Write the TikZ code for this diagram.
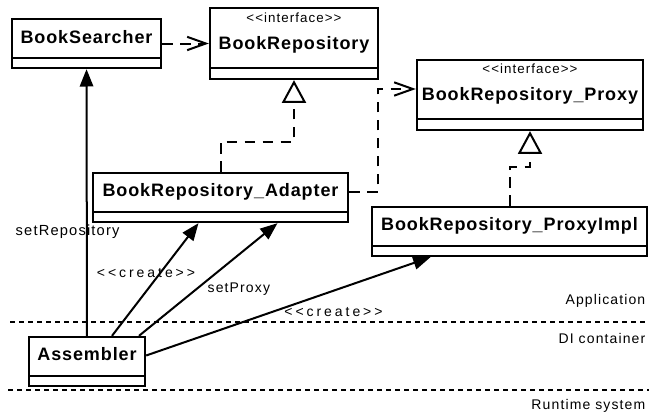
\documentclass[tikz,border=0pt]{standalone}
\usepackage{fontspec}
\setmainfont{Liberation Sans}
\newfontfamily\clsfont[LetterSpace=5]{Liberation Sans}
\newfontfamily\stfont[LetterSpace=8,Ligatures=TeXOff]{Liberation Sans}
\newfontfamily\lblfont[LetterSpace=8]{Liberation Sans}
\newfontfamily\crfont[LetterSpace=21,Ligatures=TeXOff]{Liberation Sans}
\usetikzlibrary{arrows.meta,fit,calc}
\begin{document}
\begin{tikzpicture}[x=0.75pt,y=-0.75pt,
    classbox/.style={draw, line width=1.75pt, inner sep=0pt},
    clsname/.style={font=\clsfont\bfseries\fontsize{13.5}{15}\selectfont, anchor=base},
    stereo/.style={font=\stfont\fontsize{10}{11}\selectfont, anchor=base},
    lbl/.style={font=\lblfont\fontsize{10.5}{12}\selectfont, anchor=base},
    crlbl/.style={font=\crfont\fontsize{10.5}{12}\selectfont, anchor=base},
    depend/.style={line width=1.5pt, dash pattern=on 8pt off 5.5pt, -{Straight Barb[length=14pt,width=10pt,line width=1.5pt]}},
    realize/.style={line width=1.5pt, dash pattern=on 8pt off 5.5pt, -{Triangle[length=17pt,width=18pt,line width=1.5pt,fill=white]}},
    call/.style={line width=1.5pt, -{Triangle[length=13pt,width=10pt]}},
    layer/.style={line width=1.5pt, dash pattern=on 3.75pt off 3pt}]
  \useasboundingbox (0,0) rectangle (649,414);
  \node[classbox, fit={(12,19) (161,68)}] (searcher) {};
  \draw[line width=1.75pt] (12,58) -- (161,58);
  \node[clsname] (searchername) at (86.5,43) {BookSearcher};
  \node[classbox, fit={(210,8) (378,79)}] (repo) {};
  \draw[line width=1.75pt] (210,68) -- (378,68);
  \node[stereo] (repostereo) at (294,22) {<<interface>>};
  \node[clsname] (reponame) at (294,49) {BookRepository};
  \node[classbox, fit={(417,60) (643,130)}] (proxy) {};
  \draw[line width=1.75pt] (417,119) -- (643,119);
  \node[stereo] (proxystereo) at (530,73) {<<interface>>};
  \node[clsname] (proxyname) at (530,100) {BookRepository\_Proxy};
  \node[classbox, fit={(93,173) (348,222)}] (adapter) {};
  \draw[line width=1.75pt] (93,212) -- (348,212);
  \node[clsname] (adaptername) at (220.5,196) {BookRepository\_Adapter};
  \node[classbox, fit={(372,207) (647,256)}] (impl) {};
  \draw[line width=1.75pt] (372,246) -- (647,246);
  \node[clsname] (implname) at (509.5,230) {BookRepository\_ProxyImpl};
  \node[classbox, fit={(29,337) (145,386)}] (assembler) {};
  \draw[line width=1.75pt] (29,376) -- (145,376);
  \node[clsname] (assemblername) at (87,360) {Assembler};
  \coordinate (bend) at (378,89);
  \draw[depend] (searcher) -- (repo);
  \draw[realize] (adapter.north) -- ++(0,-30) -| (repo.south);
  \draw[depend] ([yshift=4.5pt]adapter.east) -| (bend) -- (bend -| proxy.west);
  \draw[realize] (impl.north) -- ++(0,-39) -| (proxy.south);
  \node[lbl, anchor=base west, font=\lblfont\fontsize{11}{12}\selectfont] (setrepo) at (11,235) {setRepository};
  \node[crlbl] (createadapter) at (146,277) {<<create>>};
  \node[lbl, anchor=base west] (setproxy) at (203,292) {setProxy};
  \node[crlbl] (createimpl) at (333.5,316) {<<create>>};
  \draw[call] (assembler) -- (searcher);
  \draw[call] ($(assembler.north)+(25,0)$) -- ($(adapter.south)+(-22,0)$);
  \draw[call] ($(assembler.north)+(52,0)$) -- ($(adapter.south)+(57,0)$);
  \draw[call] ($(assembler.east)+(0,-6)$) -- ($(impl.south)+(-79,0)$);
  \draw[layer] (10,322) -- (649,322);
  \draw[layer] (8,390) -- (649,390);
  \node[lbl, anchor=base east] (applayer) at (650,304) {Application};
  \node[lbl, anchor=base east] (dilayer) at (650,343) {DI container};
  \node[lbl, anchor=base east] (rtlayer) at (650,409) {Runtime system};
\end{tikzpicture}
\end{document}
